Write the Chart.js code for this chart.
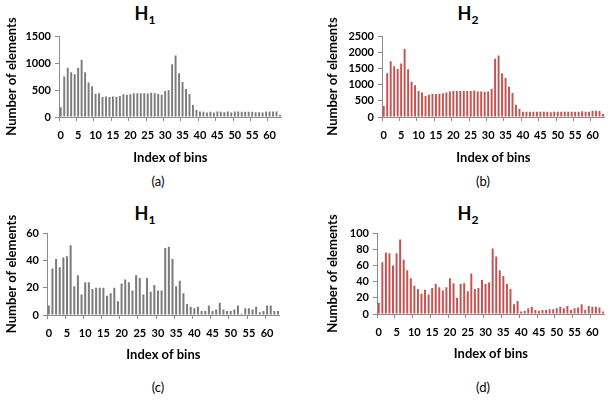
<!DOCTYPE html>
<html>
<head>
<meta charset="utf-8">
<script src="https://cdn.jsdelivr.net/npm/chart.js@4.4.1/dist/chart.umd.min.js"></script>
<style>
  body { margin: 0; background: #fff; width: 611px; height: 401px; position: relative; overflow: hidden; font-family: Lato, "Open Sans", sans-serif; }
  canvas { position: absolute; }
  .ttl { position: absolute; font-weight: bold; font-size: 18px; transform: translate(-50%, -50%); color: #000; }
  .ttl sub { font-size: 12px; vertical-align: -4px; }
  .cap { position: absolute; font-size: 13px; transform: translate(-50%, -50%); color: #000; }
</style>
</head>
<body>
<div class="ttl" style="left:145px;top:14px">H<sub>1</sub></div>
<div class="ttl" style="left:468px;top:14px">H<sub>2</sub></div>
<div class="ttl" style="left:145px;top:214px">H<sub>1</sub></div>
<div class="ttl" style="left:468px;top:214px">H<sub>2</sub></div>
<div class="cap" style="left:158px;top:181px">(a)</div>
<div class="cap" style="left:483px;top:181px">(b)</div>
<div class="cap" style="left:158px;top:387px">(c)</div>
<div class="cap" style="left:483px;top:387px">(d)</div>

<canvas id="ca" style="left:0px;top:0px" width="288" height="170"></canvas>
<canvas id="cb" style="left:321px;top:0px" width="290" height="170"></canvas>
<canvas id="cc" style="left:0px;top:195px" width="286" height="172"></canvas>
<canvas id="cd" style="left:321px;top:195px" width="290" height="171"></canvas>

<script>
// bins 0..63
const bins = Array.from({length: 64}, (_, i) => String(i));

const h1Top = [180, 750, 910, 830, 790, 910, 1060, 830, 640, 570,
  430, 440, 370, 380, 370, 380, 375, 390, 420, 410,
  420, 440, 440, 440, 440, 435, 450, 440, 425, 410,
  480, 495, 975, 1140, 810, 650, 520, 425, 220, 130,
  100, 95, 85, 95, 85, 100, 95, 90, 100, 85,
  100, 100, 95, 95, 95, 95, 90, 90, 85, 100,
  100, 100, 100, 40];

const h2Top = [340, 1350, 1720, 1570, 1480, 1650, 2100, 1470, 1090, 980,
  800, 760, 650, 690, 710, 710, 720, 730, 760, 790,
  800, 800, 800, 810, 800, 800, 820, 790, 790, 780,
  790, 870, 1800, 1900, 1350, 1200, 930, 740, 380, 250,
  160, 160, 160, 165, 165, 160, 160, 165, 150, 160,
  160, 160, 165, 165, 165, 160, 160, 175, 165, 160,
  190, 195, 185, 90];

const h1Bottom = [7, 34, 41, 35, 42, 43, 51, 21, 29, 15,
  24, 24, 19, 20, 20, 20, 14, 16, 20, 10,
  23, 26, 24, 18, 29, 27, 15, 27, 17, 22,
  18, 18, 49, 50, 41, 21, 25, 16, 8, 6,
  5, 6, 3, 3, 7, 3, 4, 9, 4, 3,
  3, 4, 7, 1, 5, 5, 4, 6, 2, 3,
  7, 7, 3, 3];

const h2Bottom = [14, 64, 76, 75, 60, 75, 92, 67, 54, 44,
  35, 31, 25, 30, 24, 32, 37, 33, 29, 33,
  44, 38, 20, 37, 38, 28, 50, 31, 32, 42,
  37, 39, 81, 71, 54, 47, 37, 31, 12, 16,
  3, 4, 7, 9, 5, 4, 5, 5, 6, 6,
  7, 9, 7, 10, 5, 7, 8, 12, 5, 10,
  9, 9, 8, 3];

const grayBar = '#7b7b7b';
const redBar = '#c8504e';
const axisCol = '#8c8c8c';
const fontFam = 'Lato, "Open Sans", sans-serif';

function makeChart(id, values, color, yMax, yStep, yWidth, xHeight, padTop) {
    const ctx = document.getElementById(id).getContext('2d');
    return new Chart(ctx, {
        type: 'bar',
        data: {
            labels: bins,
            datasets: [{
                data: values,
                backgroundColor: color,
                barPercentage: 0.55,
                categoryPercentage: 1.0
            }]
        },
        options: {
            responsive: false,
            animation: false,
            layout: { padding: { top: padTop, right: 0, left: 0, bottom: 0 } },
            plugins: { legend: { display: false }, tooltip: { enabled: false } },
            scales: {
                x: {
                    grid: {
                        drawOnChartArea: false,
                        tickLength: 4,
                        color: (c) => (c.index % 5 === 0 ? axisCol : 'rgba(0,0,0,0)')
                    },
                    border: { color: axisCol, width: 1 },
                    ticks: {
                        autoSkip: false,
                        maxRotation: 0,
                        padding: 8,
                        color: '#000',
                        font: { family: fontFam, size: 11, weight: 'bold' },
                        callback: (v, i) => (i % 5 === 0 ? bins[i] : '')
                    },
                    title: {
                        display: true,
                        text: 'Index of bins',
                        color: '#000',
                        font: { family: fontFam, size: 13, weight: 'bold' }
                    },
                    afterFit: (s) => { s.height = xHeight; }
                },
                y: {
                    min: 0,
                    max: yMax,
                    grid: { drawOnChartArea: false, tickLength: 4, color: axisCol },
                    border: { color: axisCol, width: 1 },
                    ticks: {
                        stepSize: yStep,
                        autoSkip: false,
                        padding: 4,
                        color: '#000',
                        font: { family: fontFam, size: 11, weight: 'bold' },
                        callback: (v) => String(v)
                    },
                    title: {
                        display: true,
                        text: 'Number of elements',
                        color: '#000',
                        font: { family: fontFam, size: 13, weight: 'bold' }
                    },
                    afterFit: (s) => { s.width = yWidth; }
                }
            }
        }
    });
}

makeChart('ca', h1Top, grayBar, 1500, 500, 59, 53, 36);
makeChart('cb', h2Top, redBar, 2500, 500, 61, 53, 36);
makeChart('cc', h1Bottom, grayBar, 60, 20, 47, 52, 38);
makeChart('cd', h2Bottom, redBar, 100, 20, 56, 52, 38);
</script>
</body>
</html>
